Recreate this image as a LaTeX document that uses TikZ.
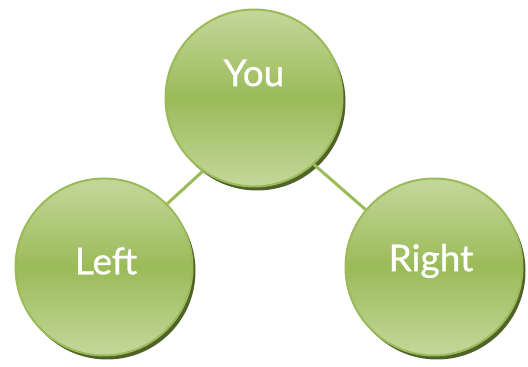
\documentclass[tikz,border=0pt]{standalone}
\usepackage{fontspec}
\setmainfont{Lato}
\newfontfamily\wordfont{Lato}[FakeBold=0.8]
\definecolor{leaf}{RGB}{155,187,89}
\definecolor{leaflight}{RGB}{196,215,155}
\definecolor{leafdark}{RGB}{79,98,40}
\begin{document}
\begin{tikzpicture}[
		x=1pt,
		y=1pt,
		bubble/.style={circle, minimum size=177pt, inner sep=0pt, draw=leaf, line width=2pt,
			top color=leaflight, bottom color=leaflight, middle color=leaf},
		word/.style={text=white, font=\wordfont\fontsize{37}{40}\selectfont},
		link/.style={leaf, line width=3pt}
	]
	\useasboundingbox (0,0) rectangle (528,367);

	% ---- sombras ----------------------------------------------------
	\fill[leafdark] (257,265) circle (88.5);
	\fill[leafdark] (107,96) circle (88.5);
	\fill[leafdark] (437,96) circle (88.5);

	% ---- circulos ---------------------------------------------------
	\node[bubble] (you) at (254,269) {};
	\node[bubble] (left) at (104,100) {};
	\node[bubble] (right) at (434,100) {};

	\node[word] (you-text) at ([yshift=25pt]you.center) {You};
	\node[word] (left-text) at ([shift={(2pt,6pt)}]left.center) {Left};
	\node[word] (right-text) at ([shift={(-3pt,6pt)}]right.center) {Right};

	% ---- ligacoes ---------------------------------------------------
	\draw[link] (you.235) -- (left.45);
	\draw[link] (you.312) -- (right.140);
\end{tikzpicture}
\end{document}
